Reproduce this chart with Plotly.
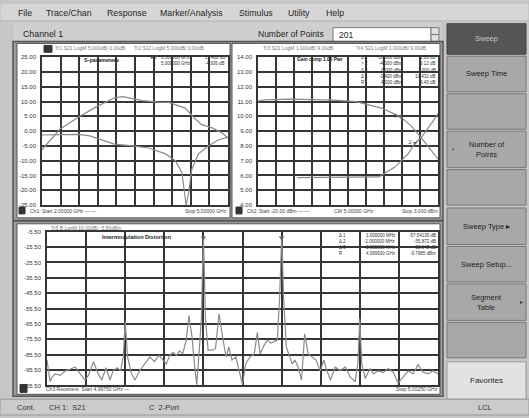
import plotly.graph_objects as go

# ---------------- data ----------------
# top-left panel (S-parameters), x in grid divisions of the sweep
tl_x_a = [0, 0.44, 0.97, 1.95, 2.92, 3.89, 4.34, 4.87, 5.40, 6.28, 6.81, 7.70, 8.23, 8.58, 9.12, 9.65, 10.0]
tl_a = [-6.3, -3.0, 0.7, 4.7, 8.2, 11.3, 11.7, 11.0, 10.3, 9.8, 9.7, 7.8, 4.2, 2.2, 1.2, -0.5, -2.3]
tl_x_b = [0, 0.97, 1.95, 2.57, 3.10, 3.89, 4.87, 5.75, 6.64, 7.17, 7.52, 7.66, 7.75, 7.88, 8.05, 8.41, 8.94, 9.47, 10.0]
tl_b = [-1.3, -1.3, -1.1, -1.6, -2.7, -4.4, -5.0, -5.7, -7.7, -10.0, -14.0, -21.0, -25.0, -21.0, -13.0, -7.7, -5.0, -3.0, -2.0]
tl_yticks = [25, 20, 15, 10, 5, 0, -5, -10, -15, -20, -25]

# top-right panel (gain compression)
tr_x_a = [0, 0.36, 1.82, 4.18, 5.45, 6.91, 7.91, 8.55, 9.09, 9.82, 10.0]
tr_a = [11.03, 11.12, 11.17, 11.10, 10.99, 10.54, 9.98, 9.31, 8.53, 7.42, 7.1]
tr_x_b = [2.18, 4.0, 6.73, 7.64, 8.36, 8.73, 9.09, 9.91, 10.0]
tr_b = [5.85, 5.85, 5.9, 6.6, 7.5, 8.2, 8.6, 10.0, 10.2]
tr_yticks = [14, 13, 12, 11, 10, 9, 8, 7, 6, 5, 4]

# bottom panel (intermodulation distortion)
imd_x = [0.00, 0.08, 0.13, 0.21, 0.34, 0.47, 0.59, 0.72, 0.85, 0.97,
         1.06, 1.19, 1.31, 1.40, 1.51, 1.61, 1.69, 1.80, 1.88, 1.95,
         2.00, 2.06, 2.16, 2.25, 2.37, 2.50, 2.63, 2.75, 2.86, 2.97,
         3.05, 3.14, 3.22, 3.31, 3.39, 3.47, 3.56, 3.63, 3.71, 3.77,
         3.83, 3.90, 3.95, 3.98, 4.00, 4.02, 4.05, 4.12, 4.22, 4.31,
         4.40, 4.49, 4.58, 4.65, 4.73, 4.83, 4.92, 5.00, 5.08, 5.19,
         5.30, 5.38, 5.45, 5.55, 5.64, 5.72, 5.81, 5.89, 5.95, 5.98,
         6.00, 6.02, 6.05, 6.12, 6.20, 6.27, 6.34, 6.42, 6.51, 6.59,
         6.68, 6.78, 6.88, 6.99, 7.08, 7.16, 7.25, 7.37, 7.50, 7.63,
         7.75, 7.88, 7.95, 8.00, 8.05, 8.14, 8.26, 8.35, 8.47, 8.60,
         8.73, 8.86, 8.98, 9.11, 9.24, 9.36, 9.49, 9.62, 9.75, 9.87,
         10.0]
imd_y = [-89, -103, -100, -98, -99, -96, -95, -93.5, -98, -102,
         -99, -90, -98, -102, -94, -102, -96, -94, -96, -87,
         -64, -87, -98, -102, -96, -91.5, -87, -90, -86, -89,
         -91.5, -86, -84, -86, -83, -85, -76, -60, -74, -91.5,
         -105, -80.5, -61, -26.6, -9.4, -26.6, -61, -82.6, -82.6, -81.6,
         -59, -74, -87, -80.5, -89, -87, -96, -105, -91.5, -87,
         -85, -71, -85, -79.4, -76, -78, -77, -76, -48, -20,
         -9.4, -20, -48, -80.5, -87, -91.5, -89, -93.5, -102, -72,
         -85, -87, -89, -96, -89, -96, -102, -93.5, -96, -93.5,
         -100, -103, -91.5, -62, -91.5, -101, -94.5, -98, -96, -97,
         -94.5, -97, -104, -100, -96, -98, -92, -97, -98, -96,
         -98]
imd_yticks = [-5.5, -15.5, -25.5, -35.5, -45.5, -55.5, -65.5, -75.5, -85.5, -95.5, -105.5]
imd_markers_x = [4.0, 6.0]
imd_markers_y = [-9.4, -9.4]

menu_items = ["File", "Trace/Chan", "Response", "Marker/Analysis", "Stimulus", "Utility", "Help"]
softkeys = ["Sweep", "Sweep Time", "", "Number of<br>Points", "", "Sweep Type \u25b8",
            "Sweep Setup...", "Segment<br>Table", "", "Favorites"]

# ---------------- layout helpers ----------------
W, H = 529, 418
FONT = "Liberation Sans"
GRID = "#363636"
TRACE = "#8a8a8a"


def px(x):
    return x / W


def py(y):
    return 1 - y / H


shapes = []
annos = []


def rect(x0, y0, x1, y1, fill, line="#666", lw=1):
    shapes.append(dict(type="rect", xref="paper", yref="paper", x0=px(x0), x1=px(x1),
                       y0=py(y1), y1=py(y0), fillcolor=fill,
                       line=dict(color=line, width=lw), layer="below"))


def hline(x0, x1, y, color="#555", lw=1):
    shapes.append(dict(type="line", xref="paper", yref="paper", x0=px(x0), x1=px(x1),
                       y0=py(y), y1=py(y), line=dict(color=color, width=lw)))


def txt(x, y, s, size=6, color="#333", anchor="left"):
    annos.append(dict(x=px(x), y=py(y), xref="paper", yref="paper", text=s, showarrow=False,
                      xanchor=anchor, yanchor="middle", borderpad=0,
                      font=dict(size=size, color=color, family=FONT)))


fig = go.Figure()

# traces
fig.add_trace(go.Scatter(x=tl_x_a, y=tl_a, mode="lines", line=dict(color=TRACE, width=1.2), xaxis="x", yaxis="y"))
fig.add_trace(go.Scatter(x=tl_x_b, y=tl_b, mode="lines", line=dict(color=TRACE, width=1.2), xaxis="x", yaxis="y"))
fig.add_trace(go.Scatter(x=tr_x_a, y=tr_a, mode="lines", line=dict(color=TRACE, width=1.2), xaxis="x2", yaxis="y2"))
fig.add_trace(go.Scatter(x=tr_x_b, y=tr_b, mode="lines", line=dict(color=TRACE, width=1.2), xaxis="x2", yaxis="y2"))
fig.add_trace(go.Scatter(x=imd_x, y=imd_y, mode="lines", line=dict(color=TRACE, width=1.2), xaxis="x3", yaxis="y3"))
fig.add_trace(go.Scatter(x=imd_markers_x, y=imd_markers_y, mode="markers",
                         marker=dict(symbol="triangle-down", size=5, color="#666"), xaxis="x3", yaxis="y3"))
fig.add_trace(go.Scatter(x=[tr_x_a[6], tr_x_b[5]], y=[tr_a[6], tr_b[5]], mode="markers+text",
                         text=["1", "2"], textposition="middle left", textfont=dict(size=6, color="#444"),
                         marker=dict(symbol="triangle-down", size=4, color="#666"), xaxis="x2", yaxis="y2"))


def xax(domain, anchor):
    return dict(domain=domain, range=[0, 10], dtick=1, showgrid=True, gridcolor=GRID, gridwidth=1.5,
                showticklabels=False, zeroline=False, showline=True, linecolor=GRID, linewidth=1.5,
                mirror=True, ticks="", fixedrange=True, anchor=anchor)


def yax(domain, ticks, rng, anchor):
    return dict(domain=domain, range=rng, tickvals=ticks, ticktext=["%.2f" % t for t in ticks],
                showgrid=True, gridcolor=GRID, gridwidth=1.5, zeroline=False, showline=True,
                linecolor=GRID, linewidth=1.5, mirror=True, ticks="", anchor=anchor, fixedrange=True,
                tickfont=dict(size=6, color="#333", family=FONT), ticklabelstandoff=3)


# ---------------- window chrome ----------------
rect(0, 0, W, 18, "#d6d6d6", "#bbbbbb")
menu_x = [17, 45, 106, 159, 238, 287, 325]
for m, x in zip(menu_items, menu_x):
    txt(x, 10, m, 8.8, "#1e1e1e")
rect(12, 19, 442, 39, "#cfcfcf", "#bdbdbd")
txt(22, 31, "Channel 1", 8.8, "#222")
txt(257, 31, "Number of Points", 8.5, "#222")
rect(333, 25, 431, 39, "#ffffff", "#777")
txt(338, 32, "201", 8.5, "#222")
rect(431, 25, 439, 32, "#e0e0e0", "#777")
rect(431, 32, 439, 39, "#e0e0e0", "#777")

# chart frame
rect(13, 39, 443, 399, "#9d9d9d", "#555", 1.5)
rect(17, 41, 230, 218, "#ffffff", "#555")
rect(232, 41, 440, 218, "#ffffff", "#555")
rect(17, 224, 440, 397, "#ffffff", "#555")

# headers / footers
rect(44, 43, 52, 50, "#333333", "#333")
txt(54, 46, "Tr1 S21 LogM 5.000dB/ 0.00dB", 5, "#777")
txt(133, 46, "Tr2 S11 LogM 5.000dB/ 0.00dB", 5, "#777")
txt(262, 46, "Tr3 S21 LogM 1.000dB/ 9.00dB", 5, "#777")
txt(355, 46, "Tr4 S21 LogM 1.000dB/ 9.00dB", 5, "#777")
rect(19, 207, 25, 214, "#333333", "#333")
txt(29, 211, "Ch1: Start 2.00000 GHz \u2014 \u2014", 5, "#444")
txt(228, 211, "Stop 5.00000 GHz", 5, "#444", "right")
rect(236, 207, 242, 214, "#333333", "#333")
txt(246, 211, "Ch2: Start -20.00 dBm \u2014 \u2014", 5, "#444")
txt(333, 211, "CW 5.00000 GHz", 5, "#444")
txt(439, 211, "Stop 3.000 dBm", 5, "#444", "right")
txt(50, 228, "Tr5 B LogM 10.00dB/ -5.50dBm", 5, "#777")
rect(20, 387, 27, 395, "#333333", "#333")
txt(45, 392, "Ch3 Receivers  Start 4.99750 GHz \u2014", 5, "#444")
txt(439, 392, "Stop 5.00250 GHz", 5, "#444", "right")

# in-plot annotations
txt(83, 58, "<b>S-parameters</b>", 5.5, "#222")
txt(150, 55, "\u25b81", 4.5, "#333")
txt(152, 61, "1", 4.5, "#333")
txt(160, 55, "3.500000 GHz", 4.5, "#333")
txt(160, 61, "5.000000 GHz", 4.5, "#333")
txt(226, 55, "11.482 dB", 4.5, "#333", "right")
txt(226, 61, "-4.936 dB", 4.5, "#333", "right")
txt(296, 57, "<b>Gain comp 1.00 Pwr</b>", 4.8, "#222")
tr_rows = [("\u0394 1", "-10.000 dBm", "1.00 dB"), ("> 2", "-4.000 dBm", "9.12 dB"),
           ("\u0394 3", "0.000 dBm", "1.000 dB"), ("\u0394 1", "-3.400 dBm", "10.432 dB"),
           ("R", "4.000 dBm", "9.40 dB")]
for i, (a, b, c) in enumerate(tr_rows):
    y = 55 + i * 6.5
    txt(360, y, a, 4.5, "#333")
    txt(404, y, b, 4.5, "#333", "right")
    txt(437, y, c, 4.5, "#333", "right")
txt(101, 237, "<b>Intermodulation Distortion</b>", 5.5, "#222")
imd_rows = [("\u0394 1", "1.000000 MHz", "-57.54130 dB"), ("\u0394 2", "-1.000000 MHz", "-55.872 dB"),
            ("\u0394 3", "2.000000 MHz", "-58.645 dB"), ("R", "4.999500 GHz", "-9.7985 dBm")]
for i, (a, b, c) in enumerate(imd_rows):
    y = 236 + i * 6
    txt(338, y, a, 4.5, "#333")
    txt(397, y, b, 4.5, "#333", "right")
    txt(437, y, c, 4.5, "#333", "right")

# separator between top and bottom panels
hline(13, 443, 221, "#555", 2)

# ---------------- softkeys ----------------
keys_y = [(21, 52), (54, 90), (92, 128), (130, 167), (169, 205), (208, 245),
          (247, 283), (285, 322), (324, 360), (364, 402)]
for label, (y0, y1) in zip(softkeys, keys_y):
    if label == "Sweep":
        rect(447, y0, 526, y1, "#555555", "#444")
        txt(486.5, (y0 + y1) / 2, label, 7.5, "#c8c8c8", "center")
    elif label == "Favorites":
        rect(447, y0, 526, y1, "#e2e2e2", "#999")
        txt(486.5, (y0 + y1) / 2, label, 8, "#222", "center")
    else:
        rect(447, y0, 526, y1, "#a8a8a8", "#777")
        if label:
            txt(486.5, (y0 + y1) / 2, label, 7.5, "#222", "center")
txt(451, 148, "\u2022", 6, "#333")
txt(524, 303, "\u25b8", 6, "#333", "right")

# status bar
rect(0, 402, W, 418, "#cbcbcb", "#999")
txt(16, 410, "Cont.", 7.5, "#333")
txt(48, 410, "CH 1:  S21", 7.5, "#333")
txt(148, 410, "C  2-Port", 7.5, "#333")
txt(477, 410, "LCL", 7.5, "#333")

fig.update_layout(
    width=W, height=H, margin=dict(l=0, r=0, t=0, b=0),
    paper_bgcolor="#c6c6c6", plot_bgcolor="#ffffff", showlegend=False,
    xaxis=xax([px(42), px(228)], "y"),
    yaxis=yax([py(205), py(55)], tl_yticks, [-25, 25], "x"),
    xaxis2=xax([px(258), px(438)], "y2"),
    yaxis2=yax([py(205), py(55)], tr_yticks, [4, 14], "x2"),
    xaxis3=xax([px(47), px(438)], "y3"),
    yaxis3=yax([py(388), py(232)], imd_yticks, [-105.5, -5.5], "x3"),
    shapes=shapes, annotations=annos,
)

fig.write_html("out.html", config={"displayModeBar": False},
               post_script="document.body.style.margin='0';document.body.style.overflow='hidden';")
